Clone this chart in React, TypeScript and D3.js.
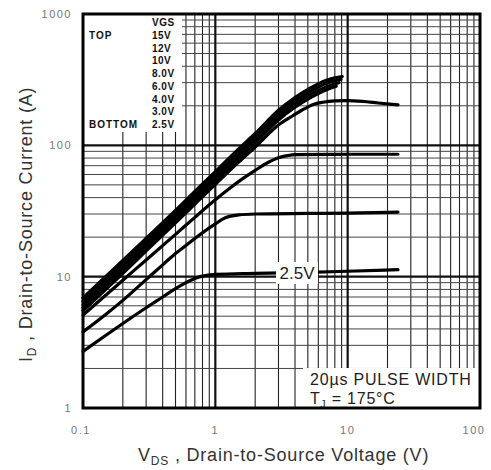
import React from "react";
import * as d3 from "d3";

const vdsTicks = [0.1, 1, 10, 100];
const vdsTickLabels = ["0.1", "1", "10", "100"];
const idTicks = [1, 10, 100, 1000];
const idTickLabels = ["1", "10", "100", "1000"];
const legendLabels = ["15V", "12V", "10V", "8.0V", "6.0V", "4.0V", "3.0V", "2.5V"];

// [VDS (V), ID (A)]
const vgs15: [number, number][] = [[0.1, 6.9], [0.2, 13.3], [0.3, 19.6], [0.5, 32], [0.7, 44.5], [1, 63], [1.5, 94], [2, 123], [3, 185], [4, 231], [5, 267], [6, 294], [7, 314], [8, 327], [9.1, 334]];
const vgs12: [number, number][] = [[0.1, 6.5], [0.2, 12.6], [0.3, 18.5], [0.5, 30.4], [0.7, 42.2], [1, 59.7], [1.5, 88.6], [2, 116], [3, 175], [4, 218], [5, 252], [6, 278], [7, 298], [8, 311], [8.9, 318]];
const vgs10: [number, number][] = [[0.1, 6.1], [0.2, 11.8], [0.3, 17.5], [0.5, 28.6], [0.7, 39.8], [1, 56.3], [1.5, 83.4], [2, 110], [3, 165], [4, 206], [5, 238], [6, 262], [7, 281], [8.6, 300]];
const vgs8: [number, number][] = [[0.1, 5.8], [0.2, 11.2], [0.3, 16.6], [0.5, 27.1], [0.7, 37.7], [1, 53.4], [1.5, 79], [2, 104], [3, 156], [4, 195], [5, 225], [6, 248], [7, 266], [8.2, 282]];
const vgs6: [number, number][] = [[0.1, 5.5], [0.2, 10.6], [0.3, 15.7], [0.5, 25.7], [0.7, 35.7], [1, 50.5], [1.5, 74.5], [2, 97], [3, 143], [3.85, 168], [4.5, 185], [5.5, 205], [6.5, 213], [8, 218], [10, 219], [13, 216], [17, 210], [24, 203]];
const vgs4: [number, number][] = [[0.1, 5.1], [0.2, 9.4], [0.3, 13.4], [0.5, 21], [0.7, 28.3], [1, 38.5], [1.3, 47.5], [1.6, 55.5], [2, 64.5], [2.5, 74], [3, 80.5], [3.5, 83.5], [4, 85], [10, 85.5], [24, 85.5]];
const vgs3: [number, number][] = [[0.1, 3.8], [0.15, 5.2], [0.2, 6.6], [0.3, 9.5], [0.4, 12.3], [0.5, 15], [0.6, 17.3], [0.77, 21], [1, 25.2], [1.2, 28.2], [1.5, 29.5], [2, 30], [5, 30.3], [10, 30.5], [24, 31]];
const vgs25: [number, number][] = [[0.1, 2.7], [0.15, 3.6], [0.2, 4.4], [0.3, 5.8], [0.4, 7.0], [0.5, 8.1], [0.6, 9.0], [0.7, 9.7], [0.8, 10.1], [1, 10.4], [2, 10.6], [5, 10.8], [10, 11.0], [24, 11.3]];

const series = [vgs15, vgs12, vgs10, vgs8, vgs6, vgs4, vgs3, vgs25];

const FONT = "'Liberation Sans', Arial, sans-serif";

export default function App() {
  const W = 491, H = 470;
  const x = d3.scaleLog().domain([0.1, 100]).range([83, 480]);
  const y = d3.scaleLog().domain([1, 1000]).range([408, 14]);

  const minorX: number[] = [];
  [0.1, 1, 10].forEach((d) => { for (let k = 2; k <= 9; k++) minorX.push(d * k); });
  const minorY: number[] = [];
  [1, 10, 100].forEach((d) => { for (let k = 2; k <= 9; k++) minorY.push(d * k); });

  const line = d3.line<[number, number]>()
    .x((d) => x(d[0]))
    .y((d) => y(d[1]))
    .curve(d3.curveMonotoneX);

  const legendY0 = 35;
  const legendStep = 12.7;

  return (
    <svg width={W} height={H} style={{ display: "block", position: "absolute", left: 0, top: 0, background: "#fff" }}>
      <rect x={0} y={0} width={W} height={H} fill="#fff" />
      {/* grid */}
      {minorX.map((v, i) => (
        <line key={"mx" + i} x1={x(v)} x2={x(v)} y1={y(1)} y2={y(1000)} stroke="#222" strokeWidth={1.1} />
      ))}
      {minorY.map((v, i) => (
        <line key={"my" + i} x1={x(0.1)} x2={x(100)} y1={y(v)} y2={y(v)} stroke="#444" strokeWidth={1} />
      ))}
      {[1, 10].map((v, i) => (
        <line key={"Mx" + i} x1={x(v)} x2={x(v)} y1={y(1)} y2={y(1000)} stroke="#111" strokeWidth={2.2} />
      ))}
      {[10, 100].map((v, i) => (
        <line key={"My" + i} x1={x(0.1)} x2={x(100)} y1={y(v)} y2={y(v)} stroke="#111" strokeWidth={2.2} />
      ))}

      {/* legend box */}
      <rect x={x(0.1)} y={y(1000)} width={99} height={118} fill="#fff" />

      {/* curves */}
      {series.map((s, i) => (
        <path key={"c" + i} d={line(s) || ""} fill="none" stroke="#000" strokeWidth={3.2} strokeLinecap="round" strokeLinejoin="round" />
      ))}

      {/* 2.5V label */}
      <rect x={276} y={262} width={42} height={22} fill="#fff" />
      <text x={297} y={279} textAnchor="middle" fontFamily={FONT} fontSize={17} fill="#222">2.5V</text>

      {/* annotation box */}
      <rect x={303} y={368} width={177} height={40} fill="#fff" />
      <text x={310} y={385} fontFamily={FONT} fontSize={16} letterSpacing={0.8} fill="#222">20µs PULSE WIDTH</text>
      <text x={310} y={404} fontFamily={FONT} fontSize={16} letterSpacing={0.8} fill="#222">
        T<tspan fontSize={10} dy={4}>J</tspan><tspan dy={-4}> = 175°C</tspan>
      </text>

      {/* legend text */}
      <text x={152} y={legendY0 - legendStep + 4} fontFamily={FONT} fontSize={10} fontWeight="bold" letterSpacing={0.5} fill="#111">VGS</text>
      <text x={89} y={legendY0 + 4} fontFamily={FONT} fontSize={10} fontWeight="bold" letterSpacing={1} fill="#111">TOP</text>
      <text x={89} y={legendY0 + 7 * legendStep + 4} fontFamily={FONT} fontSize={10} fontWeight="bold" letterSpacing={1} fill="#111">BOTTOM</text>
      {legendLabels.map((t, i) => (
        <text key={"lg" + i} x={152} y={legendY0 + i * legendStep + 4} fontFamily={FONT} fontSize={10} fontWeight="bold" letterSpacing={0.5} fill="#111">{t}</text>
      ))}

      {/* border */}
      <rect x={x(0.1)} y={y(1000)} width={x(100) - x(0.1)} height={y(1) - y(1000)} fill="none" stroke="#000" strokeWidth={3} />

      {/* tick labels */}
      {idTicks.map((v, i) => (
        <text key={"yt" + i} x={72} y={y(v) + 4} textAnchor="end" fontFamily={FONT} fontSize={11} letterSpacing={1.5} fill="#777">{idTickLabels[i]}</text>
      ))}
      {vdsTicks.map((v, i) => (
        <text key={"xt" + i} x={i === 3 ? x(v) - 6 : i === 0 ? x(v) - 2 : x(v)} y={434} textAnchor="middle" fontFamily={FONT} fontSize={11} letterSpacing={1.5} fill="#777">{vdsTickLabels[i]}</text>
      ))}

      {/* axis titles */}
      <text x={138} y={461} fontFamily={FONT} fontSize={18} letterSpacing={0.8} fill="#333">
        V<tspan fontSize={12} dy={4}>DS</tspan><tspan dy={-4}> , Drain-to-Source Voltage (V)</tspan>
      </text>
      <text transform="translate(32,362) rotate(-90)" fontFamily={FONT} fontSize={18} letterSpacing={0.8} fill="#333">
        I<tspan fontSize={12} dy={4}>D</tspan><tspan dy={-4}> , Drain-to-Source Current (A)</tspan>
      </text>
    </svg>
  );
}
